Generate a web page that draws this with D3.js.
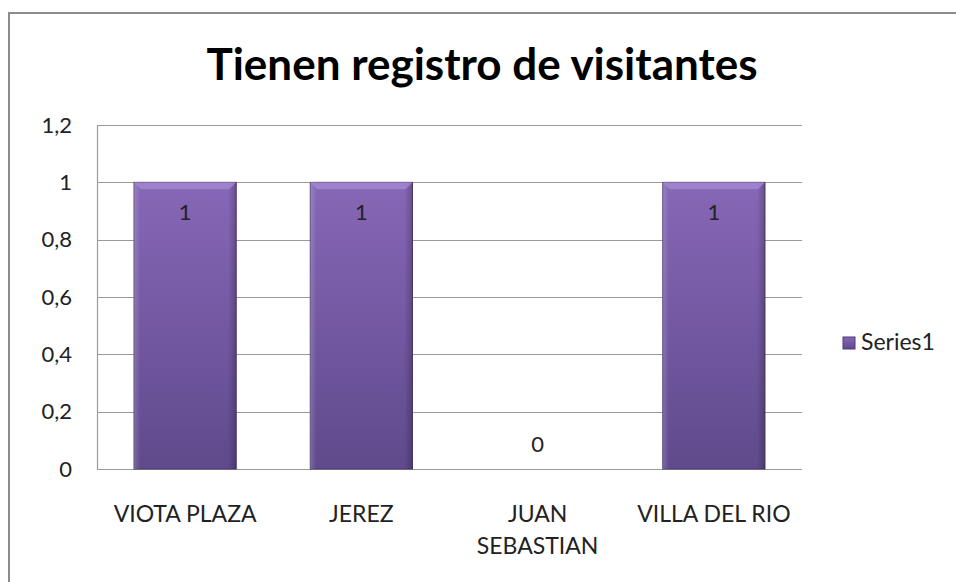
<!DOCTYPE html>
<html>
<head>
<meta charset="utf-8">
<script src="https://cdn.jsdelivr.net/npm/d3@7"></script>
<style>
  body { margin: 0; background: #fff; }
  text { font-family: Lato, "Open Sans", sans-serif; fill: #222; }
  .title { font-weight: bold; fill: #000; }
</style>
</head>
<body>
<div id="chart"></div>
<script>
// data
var categories = ["VIOTA PLAZA", "JEREZ", "JUAN SEBASTIAN", "VILLA DEL RIO"];
var values = [1, 1, 0, 1];
var yTicks = [0, 0.2, 0.4, 0.6, 0.8, 1, 1.2];
var seriesName = "Series1";

// svg params
var svgWidth = 956;
var svgHeight = 582;

var margin = { top: 125, right: 154, bottom: 113, left: 97 };
var chartWidth = svgWidth - margin.left - margin.right;
var chartHeight = svgHeight - margin.top - margin.bottom;

var svg = d3.select("#chart").append("svg")
  .attr("width", svgWidth)
  .attr("height", svgHeight);

// gradients for the bevelled bars
var defs = svg.append("defs");
var grad = defs.append("linearGradient")
  .attr("id", "barFill").attr("x1", 0).attr("y1", 0).attr("x2", 0).attr("y2", 1);
grad.append("stop").attr("offset", "0%").attr("stop-color", "#8767b7");
grad.append("stop").attr("offset", "100%").attr("stop-color", "#5f4a8c");

var side = defs.append("linearGradient")
  .attr("id", "barSide").attr("x1", 0).attr("y1", 0).attr("x2", 1).attr("y2", 0);
side.append("stop").attr("offset", "0%").attr("stop-color", "#ffffff").attr("stop-opacity", 0.18);
side.append("stop").attr("offset", "6%").attr("stop-color", "#ffffff").attr("stop-opacity", 0);
side.append("stop").attr("offset", "92%").attr("stop-color", "#000000").attr("stop-opacity", 0);
side.append("stop").attr("offset", "100%").attr("stop-color", "#000000").attr("stop-opacity", 0.22);

// outer chart border
svg.append("rect")
  .attr("x", 9).attr("y", 13)
  .attr("width", 1000).attr("height", 700)
  .attr("fill", "none")
  .attr("stroke", "#8c8c8c")
  .attr("stroke-width", 2);

// title
svg.append("text")
  .attr("class", "title")
  .attr("x", 482)
  .attr("y", 80)
  .attr("text-anchor", "middle")
  .style("font-size", "44px")
  .text("Tienen registro de visitantes");

var chartGroup = svg.append("g")
  .attr("transform", `translate(${margin.left}, ${margin.top})`);

// scales
var xScale = d3.scaleBand()
  .domain(categories)
  .range([0, chartWidth])
  .paddingInner(0.42)
  .paddingOuter(0.21);

var yScale = d3.scaleLinear()
  .domain([0, 1.2])
  .range([chartHeight, 0]);

var locale = d3.formatLocale({ decimal: ",", thousands: ".", grouping: [3], currency: ["", ""] });
var fmt = locale.format("~g");

// gridlines
chartGroup.append("g")
  .selectAll("line")
  .data(yTicks)
  .enter()
  .append("line")
  .attr("x1", 0)
  .attr("x2", chartWidth)
  .attr("y1", d => Math.round(yScale(d)) + 0.5)
  .attr("y2", d => Math.round(yScale(d)) + 0.5)
  .attr("stroke", "#9a9a9a")
  .attr("stroke-width", 1.2);

// y axis
var yAxis = d3.axisLeft(yScale)
  .tickValues(yTicks)
  .tickFormat(fmt)
  .tickSize(0)
  .tickPadding(25);
var yAxisGroup = chartGroup.append("g").call(yAxis);
yAxisGroup.select(".domain").attr("stroke", "#9a9a9a").attr("stroke-width", 1.2);
yAxisGroup.selectAll("text")
  .style("font-size", "22px")
  .attr("fill", "#222");

// x axis labels (wrapped)
var xAxisGroup = chartGroup.append("g")
  .attr("transform", `translate(0, ${chartHeight})`);
xAxisGroup.selectAll("text")
  .data(categories)
  .enter()
  .append("text")
  .attr("x", d => xScale(d) + xScale.bandwidth() / 2)
  .attr("y", 53)
  .attr("text-anchor", "middle")
  .style("font-size", "23px")
  .each(function(d) {
    var lines = d === "JUAN SEBASTIAN" ? ["JUAN", "SEBASTIAN"] : [d];
    var t = d3.select(this);
    lines.forEach(function(l, i) {
      t.append("tspan")
        .attr("x", xScale(d) + xScale.bandwidth() / 2)
        .attr("dy", i === 0 ? 0 : 32)
        .text(l);
    });
  });

// bars
var barGroup = chartGroup.append("g").selectAll("g")
  .data(values.map((v, i) => ({ cat: categories[i], val: v })))
  .enter()
  .append("g");

barGroup.filter(d => d.val > 0)
  .append("rect")
  .attr("x", d => xScale(d.cat))
  .attr("y", d => yScale(d.val))
  .attr("width", xScale.bandwidth())
  .attr("height", d => chartHeight - yScale(d.val))
  .attr("fill", "url(#barFill)")
  .attr("stroke", "#4e3b76")
  .attr("stroke-width", 1);

barGroup.filter(d => d.val > 0)
  .append("rect")
  .attr("x", d => xScale(d.cat))
  .attr("y", d => yScale(d.val))
  .attr("width", xScale.bandwidth())
  .attr("height", d => chartHeight - yScale(d.val))
  .attr("fill", "url(#barSide)");

// top bevel strip
barGroup.filter(d => d.val > 0)
  .append("path")
  .attr("d", function(d) {
    var x0 = xScale(d.cat), x1 = x0 + xScale.bandwidth(), y0 = yScale(d.val);
    return `M${x0},${y0}L${x1},${y0}L${x1 - 7},${y0 + 7}L${x0 + 7},${y0 + 7}Z`;
  })
  .attr("fill", "#a58cd3")
  .attr("opacity", 0.75);

// data labels
barGroup.append("text")
  .attr("x", d => xScale(d.cat) + xScale.bandwidth() / 2)
  .attr("y", d => d.val > 0 ? yScale(d.val) + 38 : yScale(d.val) - 17)
  .attr("text-anchor", "middle")
  .style("font-size", "22px")
  .text(d => fmt(d.val));

// legend
var legend = svg.append("g")
  .attr("transform", "translate(843, 337)");
legend.append("rect")
  .attr("width", 12).attr("height", 12)
  .attr("fill", "url(#barFill)")
  .attr("stroke", "#4e3b76");
legend.append("text")
  .attr("x", 18)
  .attr("y", 13)
  .style("font-size", "23px")
  .text(seriesName);
</script>
</body>
</html>
